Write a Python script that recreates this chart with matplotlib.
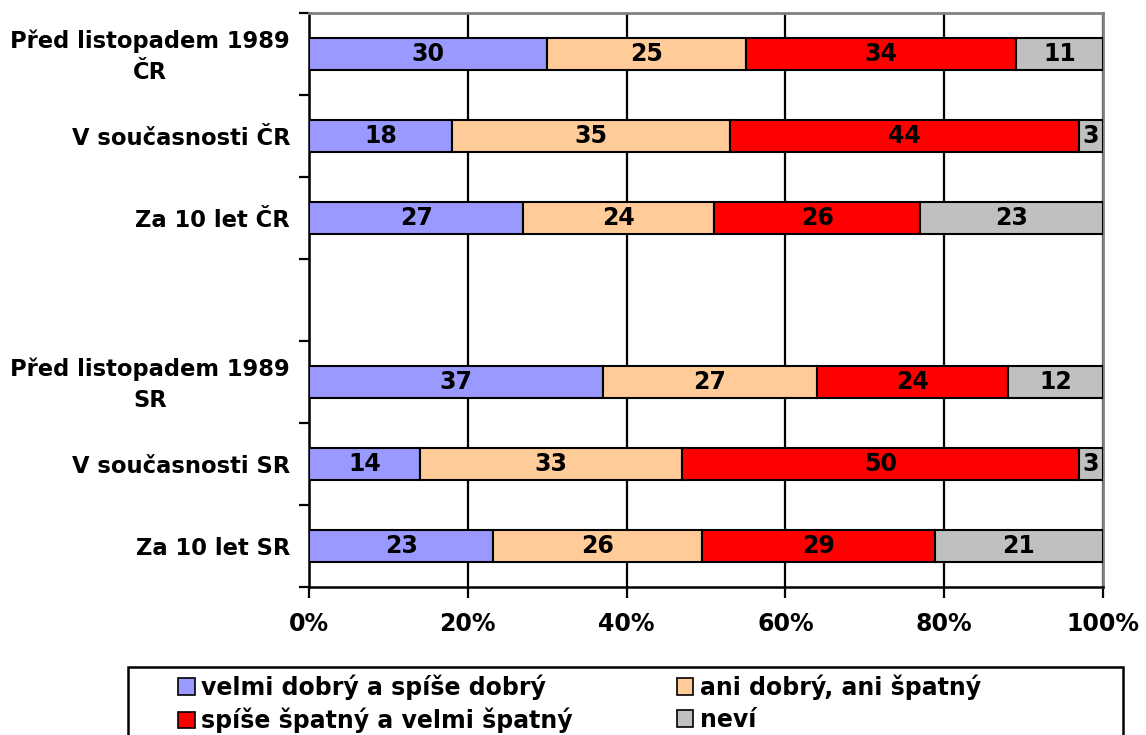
import matplotlib
matplotlib.use("Agg")
import matplotlib.pyplot as plt
from matplotlib.patches import Patch, Rectangle
from matplotlib.transforms import ScaledTranslation
import numpy as np

plt.rcParams['font.family'] = ['DejaVu Sans']
plt.rcParams['font.weight'] = 'bold'

categories = ["Před listopadem 1989\nČR", "V současnosti ČR", "Za 10 let ČR", "",
              "Před listopadem 1989\nSR", "V současnosti SR", "Za 10 let SR"]
series_names = ["velmi dobrý a spíše dobrý", "ani dobrý, ani špatný",
                "spíše špatný a velmi špatný", "neví"]
good = [30, 18, 27, None, 37, 14, 23]
neutral = [25, 35, 24, None, 27, 33, 26]
bad = [34, 44, 26, None, 24, 50, 29]
dontknow = [11, 3, 23, None, 12, 3, 21]
colors = ["#9999FF", "#FFCC99", "#FF0000", "#C0C0C0"]
xtick_labels = ["0%", "20%", "40%", "60%", "80%", "100%"]

fig = plt.figure(figsize=(11.46, 7.35), dpi=100)
ax = fig.add_axes([309/1146, 1-587/735, (1103-309)/1146, (587-13)/735])

series = [good, neutral, bad, dontknow]
n = len(categories)
ypos = np.arange(n)
for i in range(n):
    if good[i] is None:
        continue
    vals = [s[i] for s in series]
    total = sum(vals)
    left = 0.0
    for v, c in zip(vals, colors):
        w = v / total * 100
        ax.barh(ypos[i], w, left=left, height=0.39, color=c,
                edgecolor='black', linewidth=1.5, zorder=3)
        ax.text(left + w/2, ypos[i], str(v), ha='center', va='center',
                fontsize=17, fontweight='bold', zorder=4)
        left += w

ax.set_xlim(0, 100)
ax.set_ylim(n - 0.5, -0.5)
ax.set_xticks(np.arange(0, 101, 20))
ax.set_xticklabels(xtick_labels, fontsize=17, fontweight='bold')
ax.xaxis.grid(True, color='black', linewidth=1.6, zorder=0)
ax.set_axisbelow(True)

ax.set_yticks(np.arange(-0.5, n, 1.0))
ax.set_yticklabels([])
ax.tick_params(axis='y', which='major', length=7, width=1.6, direction='out')
ax.tick_params(axis='x', which='major', length=8, width=1.6, direction='out', pad=10)

# category labels
base_tr = ax.get_yaxis_transform()
for y, lab in zip(ypos, categories):
    if not lab:
        continue
    if "\n" in lab:
        tr = base_tr + ScaledTranslation(-19/100, -3/100, fig.dpi_scale_trans)
        va = 'center'
    else:
        tr = base_tr + ScaledTranslation(-19/100, 0, fig.dpi_scale_trans)
        va = 'center_baseline'
    ax.text(0, y, lab, transform=tr, ha='right', va=va, fontsize=16.3,
            fontweight='bold', multialignment='center', linespacing=1.45,
            clip_on=False)

for s in ['left', 'bottom']:
    ax.spines[s].set_color('black')
    ax.spines[s].set_linewidth(1.8)
for s in ['top', 'right']:
    ax.spines[s].set_color('#808080')
    ax.spines[s].set_linewidth(2)

# legend frame
fig.patches.append(Rectangle((128/1146, -0.05), (1123-128)/1146, (1-667/735) + 0.05,
                             transform=fig.transFigure, facecolor='white',
                             edgecolor='black', linewidth=1.8, zorder=1))

handles = [Patch(facecolor=c, edgecolor='black', linewidth=1.2) for c in colors]
order = [0, 2, 1, 3]
leg = fig.legend([handles[i] for i in order], [series_names[i] for i in order],
                 loc='upper left', ncol=2,
                 bbox_to_anchor=(178/1146, 1-674/735),
                 prop={'size': 17, 'weight': 'bold'},
                 frameon=False,
                 handlelength=0.7, handleheight=0.7, handletextpad=0.28,
                 columnspacing=4.4, borderpad=0.0, labelspacing=0.35,
                 borderaxespad=0)
leg.set_zorder(2)
fig.savefig("out.png", dpi=100)
